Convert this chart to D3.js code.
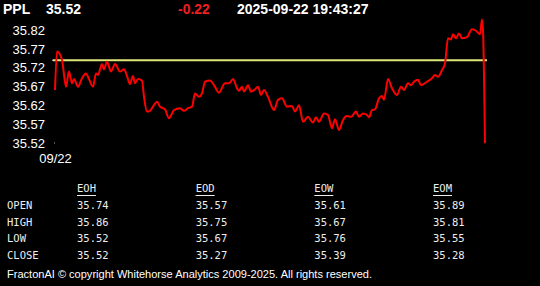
<!DOCTYPE html>
<html><head><meta charset="utf-8">
<script src="https://cdn.jsdelivr.net/npm/d3@7"></script>
<style>
html,body{margin:0;padding:0;background:#000;}
svg{display:block;}
</style></head>
<body>
<svg id="c" width="540" height="286"></svg>
<script>
// ---- data ----
const symbol = "PPL";
const lastPrice = "35.52";
const change = "-0.22";
const timestamp = "2025-09-22 19:43:27";
const dateLabel = "09/22";
const yTicks = [35.52, 35.57, 35.62, 35.67, 35.72, 35.77, 35.82];
const refLevel = 35.74;
const minutes = [0,2,7,11,14,17,19,23,27,31,34,38,41,43,47,49,52,56,60,65,69,72,75,78,80,83,87,89,92,95,98,102,105,110,114,119,125,129,133,137,140,144,147,150,155,159,164,170,174,178,182,184,187,189,193,196,200,203,206,209,213,219,223,227,232,237,240,244,248,253,258,261,264,269,273,277,280,284,288,292,296,301,304,308,312,314,317,320,324,327,329,333,337,342,346,349,353,356,359,363,366,372,377,380,383,387,390,393,396,398,401,404,407,412,417,421,425,427,428,430];
const prices = [35.661,35.763,35.741,35.670,35.710,35.679,35.690,35.670,35.692,35.705,35.690,35.670,35.705,35.701,35.730,35.716,35.736,35.710,35.730,35.710,35.716,35.698,35.677,35.698,35.679,35.690,35.686,35.643,35.604,35.606,35.617,35.630,35.617,35.610,35.586,35.608,35.613,35.606,35.613,35.617,35.652,35.643,35.652,35.683,35.686,35.674,35.654,35.679,35.679,35.690,35.666,35.659,35.670,35.657,35.674,35.657,35.663,35.670,35.648,35.661,35.643,35.608,35.635,35.639,35.617,35.619,35.604,35.621,35.577,35.590,35.575,35.589,35.577,35.599,35.595,35.560,35.584,35.555,35.582,35.592,35.590,35.604,35.590,35.599,35.595,35.589,35.608,35.610,35.639,35.645,35.635,35.690,35.666,35.648,35.670,35.661,35.679,35.674,35.683,35.688,35.674,35.683,35.692,35.701,35.696,35.714,35.732,35.798,35.795,35.809,35.798,35.811,35.798,35.801,35.822,35.818,35.809,35.848,35.820,35.520];
const tableCols = ["EOH","EOD","EOW","EOM"];
const tableRows = ["OPEN","HIGH","LOW","CLOSE"];
const openVals  = ["35.74","35.57","35.61","35.89"];
const highVals  = ["35.86","35.75","35.67","35.81"];
const lowVals   = ["35.52","35.67","35.76","35.55"];
const closeVals = ["35.52","35.27","35.39","35.28"];
const footer = "FractonAI \u00A9 copyright Whitehorse Analytics 2009-2025. All rights reserved.";

// ---- drawing ----
const svg = d3.select("#c");
svg.append("rect").attr("width",540).attr("height",286).attr("fill","#000");
const sans = "'Liberation Sans', Arial, sans-serif";
const mono = "'DejaVu Sans Mono', 'Liberation Mono', monospace";

const x = d3.scaleLinear().domain([0,430]).range([55,485]);
const y = d3.scaleLinear().domain([35.52,35.82]).range([143.3,30]);

// header
const hdr = svg.append("g").attr("font-family",sans).attr("font-weight","bold").attr("font-size",14);
hdr.append("text").attr("x",3).attr("y",13.5).attr("fill","#fff").text(symbol);
hdr.append("text").attr("x",46).attr("y",13.5).attr("fill","#fff").text(lastPrice);
hdr.append("text").attr("x",178).attr("y",13.5).attr("fill","#f01e1e").text(change);
hdr.append("text").attr("x",237).attr("y",13.5).attr("fill","#fff").text(timestamp);

// y axis
const yAxis = svg.append("g").attr("transform","translate(45,0)")
  .call(d3.axisLeft(y).tickValues(yTicks).tickFormat(d3.format(".2f")).tickSize(0).tickPadding(0));
yAxis.select(".domain").remove();
yAxis.selectAll("text").attr("fill","#fff").attr("font-family",sans).attr("font-size",13).attr("text-anchor","end");

// x axis
const xAxis = svg.append("g").attr("transform","translate(0,142.5)")
  .call(d3.axisBottom(x).tickValues([0]).tickFormat(() => dateLabel).tickSize(1).tickPadding(10));
xAxis.select(".domain").remove();
xAxis.selectAll("line").attr("stroke","#aaa").attr("transform","translate(-1,0)");
xAxis.selectAll("text").attr("fill","#fff").attr("font-family",sans).attr("font-size",13);

// reference line
svg.append("line")
  .attr("x1",x(0)-2).attr("x2",x(430)+2)
  .attr("y1",y(refLevel)).attr("y2",y(refLevel))
  .attr("stroke","#dfe67a").attr("stroke-width",2);
svg.append("rect").attr("x",x(0)-3).attr("y",y(refLevel)-0.5).attr("width",1).attr("height",1).attr("fill","#ccc");

// price line
const data = minutes.map((m,i)=>({m, p:prices[i]}));
svg.append("path").datum(data)
  .attr("fill","none").attr("stroke","#f00").attr("stroke-width",2).attr("stroke-linejoin","round")
  .attr("d", d3.line().x(d=>x(d.m)).y(d=>y(d.p)).curve(d3.curveMonotoneX));

// table
const colX = d3.scalePoint().domain(tableCols).range([77,433]);
const rowY = d3.scalePoint().domain(tableRows).range([205,255.5]);
const tbl = svg.append("g").attr("font-family",mono).attr("font-size",10.5).attr("fill","#eee");
tableCols.forEach(c=>{
  const t = tbl.append("text").attr("x",colX(c)).attr("y",188).attr("dy","0.35em").text(c);
  const w = t.node().getComputedTextLength();
  tbl.append("line").attr("x1",colX(c)).attr("x2",colX(c)+w).attr("y1",195.5).attr("y2",195.5)
    .attr("stroke","#eee").attr("stroke-width",1);
});
const rowVals = [openVals, highVals, lowVals, closeVals];
tableRows.forEach((r,ri)=>{
  tbl.append("text").attr("x",7).attr("y",rowY(r)).attr("dy","0.35em").text(r);
  tableCols.forEach((c,ci)=>{
    tbl.append("text").attr("x",colX(c)).attr("y",rowY(r)).attr("dy","0.35em").text(rowVals[ri][ci]);
  });
});

// footer
svg.append("text").attr("x",7).attr("y",273.5).attr("dy","0.35em")
  .attr("font-family",sans).attr("font-size",11.5).attr("fill","#fff")
  .attr("textLength",365).attr("lengthAdjust","spacingAndGlyphs").text(footer);
</script>
</body></html>
